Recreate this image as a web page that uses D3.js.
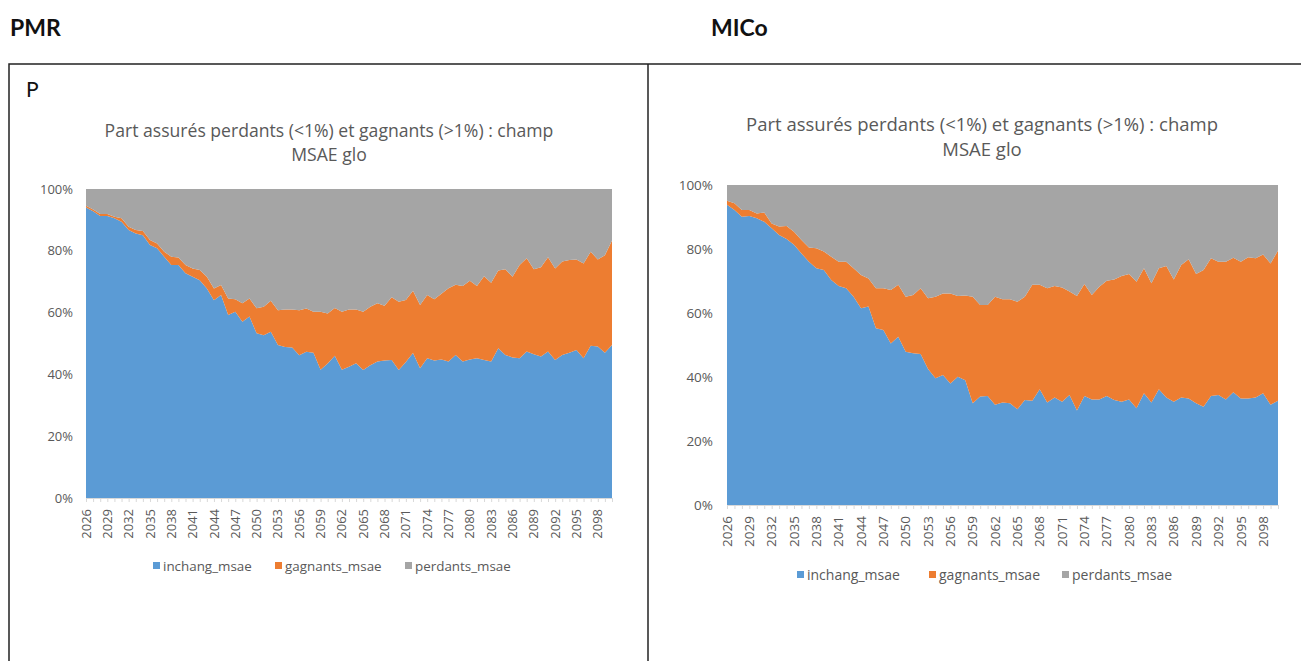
<!DOCTYPE html>
<html>
<head>
<meta charset="utf-8">
<script src="https://cdn.jsdelivr.net/npm/d3@7"></script>
<style>
  body { margin: 0; background: #fff; }
  svg { display: block; }
</style>
</head>
<body>
<svg width="1301" height="661"></svg>
<script>
// categories
const years = d3.range(2026, 2101);
const tickYears = [2026, 2029, 2032, 2035, 2038, 2041, 2044, 2047, 2050, 2053, 2056, 2059, 2062,
  2065, 2068, 2071, 2074, 2077, 2080, 2083, 2086, 2089, 2092, 2095, 2098];
const yTicks = [0, 0.2, 0.4, 0.6, 0.8, 1];
const seriesNames = ['inchang_msae', 'gagnants_msae', 'perdants_msae'];
const colors = ['#5b9bd5', '#ed7d31', '#a5a5a5'];

// PMR (left) - values in %
const pmrInchang = [94, 92.8, 91.3, 91.3, 90.5, 89.4, 86.7, 85.6, 85, 81.9, 80.8, 78.1, 75.4, 75.4, 72.7,
  71.6, 70.5, 67.8, 64, 65.7, 59.2, 60.3, 57, 58.7, 53.3, 52.7, 53.8, 49.5, 48.9, 48.7, 46.2, 47.3, 47,
  41.5, 43.5, 46, 41.5, 42.5, 43.6, 41.4, 43, 44.2, 44.5, 44.7, 41.4, 44, 46.9, 42, 45.2, 44.5, 44.8,
  44.2, 46.3, 44.2, 44.8, 45.2, 44.7, 44.2, 48.5, 46.3, 45.5, 45.2, 47.4, 46.5, 45.8, 47.4, 44.7, 46.3,
  47, 47.9, 45.2, 49.3, 49, 47, 49.5];
const pmrGagnants = [0.6, 0.6, 0.6, 0.6, 0.5, 1.1, 1.1, 1.1, 1.4, 1.6, 1.6, 1.6, 2.7, 2.4, 2.7, 2.7, 3.3,
  3.8, 3.8, 3.2, 5.4, 4.0, 6.0, 5.9, 8.1, 9.2, 10.0, 11.3, 12.1, 12.3, 14.6, 14.0, 13.3, 18.8, 16.2, 15.5,
  18.8, 18.5, 17.4, 18.9, 18.9, 18.8, 17.7, 20.3, 22.1, 20.1, 20.2, 20.5, 20.5, 19.8, 21.3, 23.7, 22.7,
  24.4, 25.5, 23.4, 27.1, 25.5, 25.1, 27.7, 26.1, 30.2, 30.2, 27.5, 28.9, 30.5, 29.6, 30.2, 30.0, 29.3,
  30.7, 30.4, 28.2, 31.6, 33.8];
const pmrPerdants = [5.4, 6.6, 8.1, 8.1, 9.0, 9.5, 12.2, 13.3, 13.6, 16.5, 17.6, 20.3, 21.9, 22.2, 24.6,
  25.7, 26.2, 28.4, 32.2, 31.1, 35.4, 35.7, 37.0, 35.4, 38.6, 38.1, 36.2, 39.2, 39.0, 39.0, 39.2, 38.7,
  39.7, 39.7, 40.3, 38.5, 39.7, 39.0, 39.0, 39.7, 38.1, 37.0, 37.8, 35.0, 36.5, 35.9, 32.9, 37.5, 34.3,
  35.7, 33.9, 32.1, 31.0, 31.4, 29.7, 31.4, 28.2, 30.3, 26.4, 26.0, 28.4, 24.6, 22.4, 26.0, 25.3, 22.1,
  25.7, 23.5, 23.0, 22.8, 24.1, 20.3, 22.8, 21.4, 16.7];

// MICo (right) - values in %
const micoInchang = [93.8, 92.2, 90.1, 90.3, 89.6, 88.5, 86.5, 84.4, 83.1, 81.3, 78.6, 76.0, 74.0, 73.4,
  70.3, 68.4, 67.7, 65.1, 61.5, 62.0, 55.2, 54.7, 50.5, 52.6, 47.9, 47.4, 47.2, 42.5, 39.6, 40.6, 38.0,
  40.1, 39.0, 31.8, 33.9, 34.1, 31.3, 32.0, 31.8, 29.9, 32.8, 32.6, 36.2, 32.0, 33.6, 32.3, 34.4, 29.5,
  34.1, 33.0, 33.0, 34.1, 32.8, 32.3, 33.0, 30.2, 34.9, 32.0, 36.2, 33.6, 32.3, 33.6, 33.3, 31.8, 30.7,
  34.1, 34.4, 33.0, 35.2, 33.3, 33.3, 33.6, 34.9, 31.3, 32.6];
const micoGagnants = [1.3, 2.1, 2.1, 1.9, 1.5, 2.9, 1.5, 2.6, 4.1, 4.1, 4.2, 4.5, 6.2, 5.8, 7.3, 7.6, 8.3,
  8.9, 10.4, 8.8, 12.5, 13.0, 16.7, 16.2, 17.2, 18.2, 20.5, 22.1, 25.5, 25.5, 28.1, 25.2, 26.5, 33.3, 28.6,
  28.4, 33.8, 32.3, 32.5, 33.6, 32.3, 36.2, 32.6, 35.7, 34.8, 35.7, 32.3, 35.8, 35.0, 32.6, 35.2, 36.0,
  37.7, 39.3, 39.2, 39.6, 39.1, 37.3, 37.8, 41.1, 38.2, 41.4, 43.5, 40.4, 42.7, 43.0, 41.6, 43.0, 42.1,
  42.7, 44.1, 43.5, 43.4, 44.2, 46.9];
const micoPerdants = [4.9, 5.7, 7.8, 7.8, 8.9, 8.6, 12.0, 13.0, 12.8, 14.6, 17.2, 19.5, 19.8, 20.8, 22.4,
  24.0, 24.0, 26.0, 28.1, 29.2, 32.3, 32.3, 32.8, 31.2, 34.9, 34.4, 32.3, 35.4, 34.9, 33.9, 33.9, 34.7,
  34.5, 34.9, 37.5, 37.5, 34.9, 35.7, 35.7, 36.5, 34.9, 31.2, 31.2, 32.3, 31.6, 32.0, 33.3, 34.7, 30.9,
  34.4, 31.8, 29.9, 29.5, 28.4, 27.8, 30.2, 26.0, 30.7, 26.0, 25.3, 29.5, 25.0, 23.2, 27.8, 26.6, 22.9,
  24.0, 24.0, 22.7, 24.0, 22.6, 22.9, 21.7, 24.5, 20.5];

const titleLines = ['Part assurés perdants (<1%) et gagnants (>1%) : champ', 'MSAE glo'];

const svg = d3.select('svg');
const font = '"Open Sans", sans-serif';
const headFont = 'Lato, "Open Sans", sans-serif';

// page headers and frame
svg.append('text').attr('x', 10).attr('y', 36).text('PMR')
  .attr('font-family', headFont).attr('font-weight', 'bold').attr('font-size', 23).attr('fill', '#111');
svg.append('text').attr('x', 711).attr('y', 36).text('MICo')
  .attr('font-family', headFont).attr('font-weight', 'bold').attr('font-size', 23).attr('fill', '#111');
svg.append('rect').attr('x', 9).attr('y', 64).attr('width', 1300).attr('height', 700)
  .attr('fill', 'none').attr('stroke', '#222').attr('stroke-width', 1.5);
svg.append('line').attr('x1', 648).attr('x2', 648).attr('y1', 64).attr('y2', 661)
  .attr('stroke', '#222').attr('stroke-width', 1.5);
svg.append('text').attr('x', 26).attr('y', 97).text('P')
  .attr('font-family', headFont).attr('font-size', 21).attr('fill', '#111');

function drawChart(cfg) {
  const rows = years.map((y, i) => ({
    year: y,
    inchang_msae: cfg.inchang[i],
    gagnants_msae: cfg.gagnants[i],
    perdants_msae: cfg.perdants[i]
  }));
  const stacked = d3.stack().keys(seriesNames).offset(d3.stackOffsetExpand)(rows);

  const x = d3.scalePoint().domain(years).range([cfg.left, cfg.right]);
  const y = d3.scaleLinear().domain([0, 1]).range([cfg.bottom, cfg.top]);

  const g = svg.append('g');

  // title
  g.append('text')
    .attr('text-anchor', 'middle')
    .attr('font-family', font).attr('font-size', cfg.titleSize).attr('fill', '#595959')
    .selectAll('tspan').data(titleLines).join('tspan')
    .attr('x', cfg.titleX).attr('y', (d, i) => cfg.titleY + i * cfg.titleGap)
    .text(d => d);

  const area = d3.area()
    .x(d => x(d.data.year))
    .y0(d => y(d[0]))
    .y1(d => y(d[1]));

  g.selectAll('path.layer').data(stacked).join('path')
    .attr('class', 'layer')
    .attr('d', area)
    .attr('fill', (d, i) => colors[i]);

  // y axis labels
  const yAxis = g.append('g')
    .attr('transform', `translate(${cfg.left},0)`)
    .call(d3.axisLeft(y).tickValues(yTicks).tickFormat(d3.format('.0%')).tickSize(0).tickPadding(cfg.left - cfg.yLabelX));
  yAxis.select('.domain').remove();
  yAxis.selectAll('text').attr('font-family', font).attr('font-size', cfg.tickSize).attr('fill', '#595959');

  // x axis with minor ticks every year
  const xAxis = g.append('g')
    .attr('transform', `translate(0,${cfg.bottom})`)
    .call(d3.axisBottom(x).tickValues(years).tickSize(4).tickFormat(''));
  xAxis.select('.domain').attr('stroke', '#d9d9d9');
  xAxis.selectAll('.tick line').attr('stroke', '#d9d9d9');

  g.append('g').selectAll('text').data(tickYears).join('text')
    .attr('transform', d => `translate(${x(d)},${cfg.bottom + cfg.xLabelGap}) rotate(-90)`)
    .attr('text-anchor', 'end')
    .attr('dy', '0.35em')
    .attr('font-family', font).attr('font-size', cfg.tickSize).attr('fill', '#595959')
    .text(d => d);

  // legend
  const leg = g.append('g').selectAll('g').data(seriesNames).join('g')
    .attr('transform', (d, i) => `translate(${cfg.legendX[i]},${cfg.legendY})`);
  leg.append('rect').attr('x', 0).attr('y', -4).attr('width', 7).attr('height', 7)
    .attr('fill', (d, i) => colors[i]);
  leg.append('text').attr('x', 10).attr('dy', '0.35em')
    .attr('font-family', font).attr('font-size', cfg.legendSize).attr('fill', '#595959')
    .text(d => d);
}

drawChart({
  inchang: pmrInchang, gagnants: pmrGagnants, perdants: pmrPerdants,
  left: 86, right: 612, top: 189, bottom: 498,
  titleX: 329, titleY: 137, titleGap: 24, titleSize: 17.6,
  yLabelX: 73, tickSize: 13, xLabelGap: 11,
  legendX: [153, 275, 405], legendY: 566, legendSize: 13.4
});

drawChart({
  inchang: micoInchang, gagnants: micoGagnants, perdants: micoPerdants,
  left: 727, right: 1278, top: 185, bottom: 505,
  titleX: 982, titleY: 131, titleGap: 25, titleSize: 18.5,
  yLabelX: 713, tickSize: 13.5, xLabelGap: 11,
  legendX: [797, 929, 1062], legendY: 575, legendSize: 14
});
</script>
</body>
</html>
